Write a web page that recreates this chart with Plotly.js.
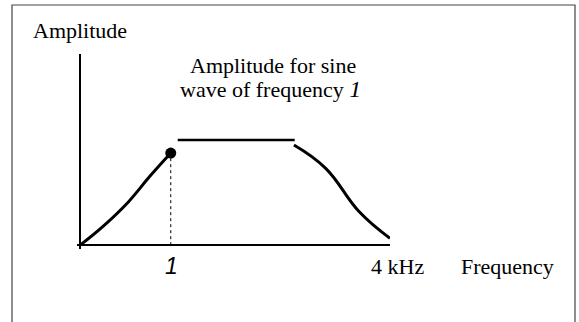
<!DOCTYPE html>
<html>
<head>
<meta charset="utf-8">
<script src="https://cdn.plot.ly/plotly-3.0.1.min.js"></script>
<style>
  html, body { margin: 0; padding: 0; background: #fff; }
  #chart { width: 579px; height: 322px; }
</style>
</head>
<body>
<div id="chart"></div>
<script>
// frequency in kHz, amplitude in relative units
const riseFreq = [0, 0.30, 0.62, 0.90, 1.17];
const riseAmp = [0, 0.100, 0.225, 0.360, 0.482];
const flatFreq = [1.26, 2.77];
const flatAmp = [0.55, 0.55];
const fallFreq = [2.76, 3.17, 3.60, 4.0];
const fallAmp = [0.524, 0.402, 0.176, 0.036];
const markFreq = 1.17;
const markAmp = 0.482;

const SERIF = "Liberation Serif, Times New Roman, serif";
const SANS = "Liberation Sans, Arial, sans-serif";

// plot box in pixels, used to place the free-floating labels
const W = 579, H = 322;
const M = { l: 77, r: 189, t: 54, b: 73 };
const X_RANGE = [-0.04, 4.0];
const Y_RANGE = [-0.02, 1.0];
const pw = W - M.l - M.r, ph = H - M.t - M.b;
const paperX = (px) => (px - M.l) / pw;
const paperY = (py) => (H - M.b - py) / ph;

const rise = { color: "#000", width: 3, shape: "spline", smoothing: 1 };
const fall = { color: "#000", width: 3, shape: "spline", smoothing: 1.2 };

const traces = [
  { x: [0, markFreq], y: [0, 0], mode: "lines", line: { color: "#000", width: 1, dash: "dot" } },
  { x: [markFreq, markFreq], y: [0, markAmp], mode: "lines", line: { color: "#000", width: 1, dash: "dot" } },
  { x: riseFreq, y: riseAmp, mode: "lines", line: rise },
  { x: flatFreq, y: flatAmp, mode: "lines", line: { color: "#000", width: 2.5 } },
  { x: fallFreq, y: fallAmp, mode: "lines", line: fall },
  { x: [markFreq], y: [markAmp], mode: "markers", marker: { color: "#000", size: 11 }, cliponaxis: false },
];

function label(text, px, py, font) {
  return {
    text, x: paperX(px), y: paperY(py), xref: "paper", yref: "paper",
    showarrow: false, xanchor: "center", yanchor: "middle", font,
  };
}

const serif = { family: SERIF, size: 22, color: "#000" };

const layout = {
  width: W, height: H,
  margin: M,
  paper_bgcolor: "#fff", plot_bgcolor: "#fff",
  showlegend: false,
  xaxis: {
    range: X_RANGE, showgrid: false, showticklabels: false, ticks: "",
    zeroline: true, zerolinecolor: "#000", zerolinewidth: 2, showline: false,
  },
  yaxis: {
    range: Y_RANGE, showgrid: false, showticklabels: false, ticks: "",
    zeroline: true, zerolinecolor: "#000", zerolinewidth: 2, showline: false,
  },
  annotations: [
    label("Amplitude", 80, 31, serif),
    label("Amplitude for sine", 273, 65, serif),
    label("wave of frequency <i><span style=\"font-size:24px\">1</span></i>", 270, 89, serif),
    label("<i>1</i>", 171, 266, { family: SANS, size: 23, color: "#000" }),
    label("4 kHz", 397, 266, serif),
    label("Frequency", 507, 266, serif),
  ],
  shapes: [
    {
      type: "rect", xref: "paper", yref: "paper",
      x0: paperX(12), x1: paperX(575), y0: paperY(340), y1: paperY(5),
      line: { color: "#444", width: 1.2 },
    },
  ],
};

Plotly.newPlot("chart", traces, layout, { staticPlot: true, displayModeBar: false });
</script>
</body>
</html>
